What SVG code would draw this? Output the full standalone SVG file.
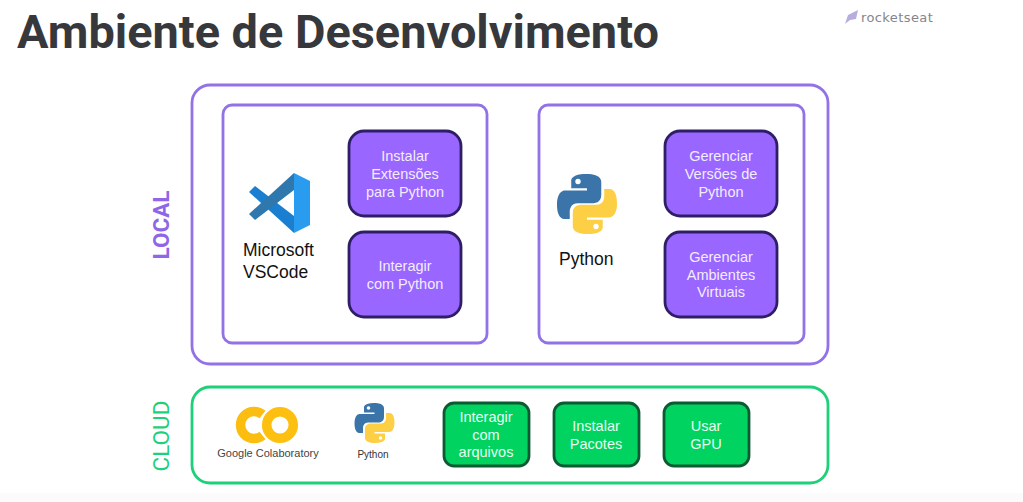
<svg xmlns="http://www.w3.org/2000/svg" width="1023" height="502" viewBox="0 0 1023 502">
<style>
text{font-family:"Liberation Sans",Arial,sans-serif}
.pb{fill:#fff;stroke:#9272e6;stroke-width:2.800}
.pt{fill:#9966ff;stroke:#2e1e66;stroke-width:2.800}
.gt{fill:#00d35f;stroke:#0b5a33;stroke-width:2.800}
.lbl{fill:#f3ecff;font-size:14.500px;text-anchor:middle}
.gl{fill:#e8fff0;font-size:14.500px;text-anchor:middle}
.blk{fill:#111;font-size:17.500px}
</style>
<defs>
<g id="py">
<path fill="#3a74a8" d="M19.500 0C9 0 9.500 4.500 9.500 4.500V9.500H20V11H5.500C5.500 11 0 10.500 0 20.500S5 30 5 30H8.500V25C8.500 25 8.300 19.500 14 19.500H24C24 19.500 29.500 19.600 29.500 14V5.500C29.500 5.500 30.500 0 19.500 0Z"/>
<path fill="#fdcf45" d="M20.500 40C31 40 30.500 35.500 30.500 35.500V30.500H20V29H34.500C34.500 29 40 29.500 40 19.500S35 10 35 10H31.500V15C31.500 15 31.700 20.500 26 20.500H16C16 20.500 10.500 20.400 10.500 26V34.500C10.500 34.500 9.500 40 20.500 40Z"/>
<circle cx="14" cy="5" r="1.800" fill="#fff"/>
<circle cx="26" cy="35" r="1.800" fill="#fff"/>
</g>
</defs>
<rect width="1023" height="502" fill="#fff"/>
<rect y="493" width="1023" height="9" fill="#fbfbfb"/>
<text x="17" y="48" font-size="46.900" font-weight="700" fill="#37383c" style="font-family:Roboto,'Liberation Sans',sans-serif">Ambiente de Desenvolvimento</text>
<g id="logo">
<path d="M845 24L848 15L858 10L856 19L850 20Z" fill="#b7addf"/>
<text x="861" y="22" font-size="13" fill="#85858d" letter-spacing=".4" style="font-family:'DejaVu Sans',sans-serif">rocketseat</text>
</g>
<g id="connectors"/>
<g id="local">
<rect x="192" y="85" width="636" height="279" rx="18" fill="#fff" stroke="#9272e6" stroke-width="2.800"/>
<text transform="translate(168.500 225) rotate(-90)" font-size="22.500" font-weight="700" fill="#8f66e8" text-anchor="middle" style="font-family:Roboto,'Liberation Sans',sans-serif">LOCAL</text>
</g>
<g id="vscode">
<rect class="pb" x="223" y="105" width="264" height="238" rx="9"/>
<path fill="#1a7fd0" d="M249 192L255 186L294 216V233Z"/>
<path fill="#2f78ad" d="M294 173V190L255 220L249 214Z"/>
<path fill="#2a9cef" d="M294 173L310 181V225L294 233Z"/>
<text class="blk" x="243" y="256">Microsoft</text>
<text class="blk" x="243" y="278">VSCode</text>
</g>
<g id="instalar-ext"><rect class="pt" x="349" y="131" width="112" height="85" rx="15"/>
<text class="lbl" x="405" y="161">Instalar</text><text class="lbl" x="405" y="179">Extensões</text><text class="lbl" x="405" y="197">para Python</text></g>
<g id="interagir-py"><rect class="pt" x="349" y="232" width="112" height="85" rx="15"/>
<text class="lbl" x="405" y="271">Interagir</text><text class="lbl" x="405" y="289">com Python</text></g>
<g id="python-local">
<rect class="pb" x="539" y="105" width="265" height="238" rx="9"/>
<use href="#py" transform="translate(557 174) scale(1.500)"/>
<text class="blk" x="559" y="265">Python</text>
</g>
<g id="gerenciar-versoes"><rect class="pt" x="665" y="131" width="112" height="85" rx="15"/>
<text class="lbl" x="721" y="161">Gerenciar</text><text class="lbl" x="721" y="179">Versões de</text><text class="lbl" x="721" y="197">Python</text></g>
<g id="gerenciar-ambientes"><rect class="pt" x="665" y="232" width="112" height="85" rx="15"/>
<text class="lbl" x="721" y="262">Gerenciar</text><text class="lbl" x="721" y="280">Ambientes</text><text class="lbl" x="721" y="297">Virtuais</text></g>
<g id="cloud">
<rect x="192" y="387" width="636" height="96" rx="18" fill="#fff" stroke="#1fd07a" stroke-width="2.800"/>
<text transform="translate(168.500 436) rotate(-90)" font-size="22.500" font-weight="400" fill="#1fd07a" text-anchor="middle" style="font-family:Roboto,'Liberation Sans',sans-serif">CLOUD</text>
</g>
<g id="colab">
<path fill="none" stroke="#fbbd0f" stroke-width="9.500" d="M262.500 414.500A13.500 13.500 0 1 0 262.500 435.500"/>
<circle cx="280" cy="425" r="13.300" fill="none" stroke="#fdc010" stroke-width="9.500"/>
<text x="268" y="457" font-size="11" fill="#444" text-anchor="middle">Google Colaboratory</text>
</g>
<g id="python-cloud">
<use href="#py" transform="translate(354.500 403)"/>
<text x="373" y="458" font-size="10" fill="#333" text-anchor="middle">Python</text>
</g>
<g id="interagir-arq"><rect class="gt" x="444" y="403" width="85" height="63" rx="10"/>
<text class="gl" x="486" y="422">Interagir</text><text class="gl" x="486" y="440">com</text><text class="gl" x="486" y="457">arquivos</text></g>
<g id="instalar-pac"><rect class="gt" x="554" y="403" width="85" height="63" rx="10"/>
<text class="gl" x="596" y="431">Instalar</text><text class="gl" x="596" y="449">Pacotes</text></g>
<g id="usar-gpu"><rect class="gt" x="664" y="403" width="85" height="63" rx="10"/>
<text class="gl" x="706" y="431">Usar</text><text class="gl" x="706" y="449">GPU</text></g>
</svg>
